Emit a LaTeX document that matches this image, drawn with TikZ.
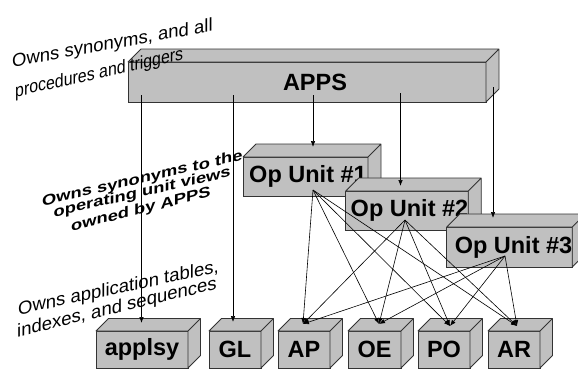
\documentclass[tikz,border=0pt]{standalone}
\usepackage{fontspec}
\setmainfont{Liberation Sans}
\usetikzlibrary{arrows.meta,calc}
\definecolor{boxgray}{HTML}{C0C0C0}
\definecolor{edgegray}{HTML}{333333}
\newcommand{\cubefaces}[2]{%
  \path[face] (#1.north west) -- ++(#2,-#2) -- ($(#1.north east)+(#2,-#2)$)
    -- ($(#1.south east)+(#2,-#2)$) -- (#1.south east) -- (#1.north east) -- cycle
    (#1.north east) -- ++(#2,-#2);}
% shear text: #1 = a, #2 = b of the matrix [a b 0 1]
\newcommand{\shr}[3]{\special{pdf:btrans matrix #1 #2 0 1 0 0}#3\special{pdf:etrans}}
\begin{document}
\begin{tikzpicture}[x=1pt,y=-1pt,
  box/.style={draw=edgegray, fill=boxgray, line width=0.8pt, outer sep=0pt, inner sep=0pt,
    font=\fontsize{23.5}{26}\selectfont\bfseries},
  face/.style={draw=edgegray, fill=boxgray, line width=0.8pt, line join=round},
  conn/.style={line width=0.6pt, -{Latex[length=6pt,width=4.5pt]}},
  wa/.style={inner sep=0pt, anchor=base west, font=\fontsize{18.5}{22}\selectfont},
  wab/.style={inner sep=0pt, anchor=base west, font=\fontsize{15}{17}\selectfont\bfseries}]
\useasboundingbox (0,0) rectangle (578,370);
\clip (0,0) rectangle (578,370);

% APPS
\node[box, minimum width=358pt, minimum height=40pt] (apps) at (307,82) {\hspace*{16pt}APPS};
\cubefaces{apps}{13}
% Op units
\node[box, minimum width=125pt, minimum height=39pt] (op1) at (305.5,176.5) {\hspace*{5pt}Op Unit \#1};
\cubefaces{op1}{13}
\node[box, minimum width=122pt, minimum height=39pt] (op2) at (407,210.5) {\hspace*{5pt}Op Unit \#2};
\cubefaces{op2}{13}
\node[box, minimum width=125pt, minimum height=40pt] (op3) at (509.5,247) {\hspace*{8pt}Op Unit \#3};
\cubefaces{op3}{13}
% bottom boxes
\node[box, minimum width=92pt, minimum height=37pt] (applsy) at (142,349.5) {applsy};
\cubefaces{applsy}{12.5}
\node[box, minimum width=52pt, minimum height=37pt] (gl) at (235,349.5) {GL};
\cubefaces{gl}{12.5}
\node[box, minimum width=52pt, minimum height=37pt] (ap) at (304,349.5) {AP};
\cubefaces{ap}{12.5}
\node[box, minimum width=53pt, minimum height=37pt] (oe) at (374.5,349.5) {OE};
\cubefaces{oe}{12.5}
\node[box, minimum width=52pt, minimum height=37pt] (po) at (444,349.5) {PO};
\cubefaces{po}{12.5}
\node[box, minimum width=52pt, minimum height=37pt] (ar) at (514,349.5) {AR};
\cubefaces{ar}{12.5}

% connector end points
\coordinate (s1) at (141.5,95);  \coordinate (e1) at (141.5,323);
\coordinate (s2) at (233,95);    \coordinate (e2) at (233,322);
\coordinate (s3) at (313,95);    \coordinate (e3) at (313,147);
\coordinate (s4) at (400.5,93);  \coordinate (e4) at (400.5,186);
\coordinate (s5) at (493,87);    \coordinate (e5) at (493,218);
\coordinate (o1) at (313,190);
\coordinate (o2) at (405,220);
\coordinate (o3) at (505,256);
\coordinate (tap) at (303,324);
\coordinate (toe) at (379,324);
\coordinate (tpo) at (450,326);
\coordinate (tar) at (517,326);

\draw[conn] (s1) -- (e1);
\draw[conn] (s2) -- (e2);
\draw[conn] (s3) -- (e3);
\draw[conn] (s4) -- (e4);
\draw[conn] (s5) -- (e5);
\foreach \s in {o1,o2,o3}{
  \foreach \t in {tap,toe,tpo,tar}{
    \draw[conn] (\s) -- (\t);
  }
}

% WordArt-like labels (text sheared upward to the right)
\node[wa] (t1) at (12,67) {\shr{1}{0.18}{Owns synonyms, and all}};
\node[wa] (t2) at (15,97) {\shr{0.86}{0.19}{procedures and triggers}};
\node[wab] (m1) at (42,206) {\shr{1.22}{0.28}{Owns synonyms to the}};
\node[wab] (m2) at (53.5,217) {\shr{1.22}{0.28}{operating unit views}};
\node[wab] (m3) at (71,231) {\shr{1.22}{0.30}{owned by APPS}};
\node[wa] (b1) at (18,315) {\shr{1}{0.213}{Owns application tables,}};
\node[wa] (b2) at (17,337) {\shr{1}{0.24}{indexes, and sequences}};
\end{tikzpicture}
\end{document}
